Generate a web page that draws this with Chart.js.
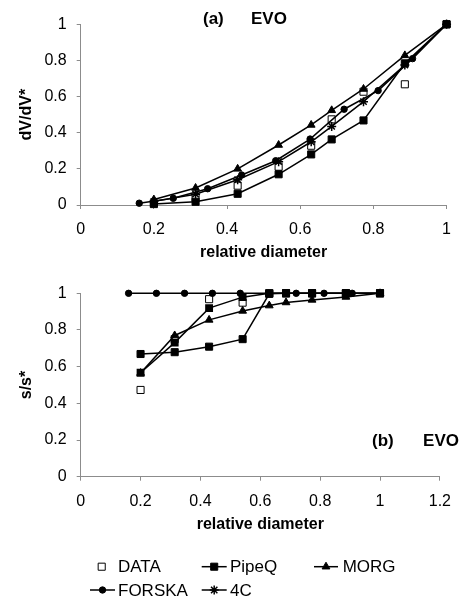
<!DOCTYPE html>
<html>
<head>
<meta charset="utf-8">
<title>EVO - relative diameter</title>
<script src="https://cdn.jsdelivr.net/npm/chart.js@4.4.0/dist/chart.umd.min.js"></script>
<style>
    html, body { margin: 0; padding: 0; background: #fff; }
    #wrap { position: relative; width: 462px; height: 598px; overflow: hidden; }
    #wrap canvas { position: absolute; left: 0; }
</style>
</head>
<body>
<div id="wrap">
    <canvas id="chartA" style="top:0; width:462px; height:264px"></canvas>
    <canvas id="chartB" style="top:270px; width:462px; height:328px"></canvas>
</div>
<script>
// Relative diameters of the sieve classes
const diameters = [0.2, 0.314, 0.429, 0.541, 0.63, 0.686, 0.773, 0.886, 1.0];
const diametersForska = [0.16, 0.253, 0.347, 0.44, 0.533, 0.627, 0.72, 0.813, 0.907, 1.0];

// (a) dV/dV*
const dataA = [0.01, 0.04, 0.107, 0.212, 0.328, 0.474, 0.627, 0.668, 1.0];
const pipeqA = [0.005, 0.018, 0.062, 0.17, 0.28, 0.363, 0.468, 0.784, 1.0];
const morgA = [0.03, 0.094, 0.2, 0.332, 0.443, 0.524, 0.642, 0.828, 1.0];
const forskaA = [0.01, 0.037, 0.09, 0.166, 0.245, 0.365, 0.53, 0.633, 0.81, 1.0];
const c4A = [0.02, 0.06, 0.14, 0.24, 0.35, 0.435, 0.572, 0.775, 1.0];

// (b) s/s*
const dataB = [0.473, 0.75, 0.968, 0.949, 1.0, 1.0, 1.0, 1.0, 1.0];
const pipeqB = [0.669, 0.679, 0.709, 0.75, 0.997, 1.0, 1.0, 1.0, 1.0];
const morgB = [0.565, 0.77, 0.855, 0.904, 0.933, 0.95, 0.964, 0.98, 1.0];
const forskaB = [1, 1, 1, 1, 1, 1, 1, 1, 1, 1];
const c4B = [0.567, 0.731, 0.919, 0.979, 1.0, 1.0, 1.0, 1.0, 1.0];

// Tick values
const xTicksA = [0, 0.2, 0.4, 0.6, 0.8, 1];
const xTicksB = [0, 0.2, 0.4, 0.6, 0.8, 1, 1.2];
const yTicks = [0, 0.2, 0.4, 0.6, 0.8, 1];

const FONT = "'Liberation Sans', Arial, Helvetica, sans-serif";
const AXIS_GREY = '#8c8c8c';

Chart.defaults.font.family = FONT;
Chart.defaults.color = '#000';

const markers = {
    DATA:   { shape: 'rect', r: 5, fill: '#fff', line: false },
    PipeQ:  { shape: 'rect', r: 5, fill: '#000', line: true },
    MORG:   { shape: 'triangle', r: 4.5, fill: '#000', line: true },
    FORSKA: { shape: 'circle', r: 3.2, fill: '#000', line: true },
    '4C':   { shape: 'star', r: 4.5, fill: '#000', line: true }
};

function series(label, xs, ys, order, shape) {
    const m = markers[label];
    return {
        label: label,
        data: xs.map((x, i) => ({ x: x, y: ys[i] })),
        showLine: m.line,
        borderColor: '#000',
        borderWidth: 1.5,
        pointStyle: shape || m.shape,
        pointRadius: m.r,
        pointBackgroundColor: m.fill,
        pointBorderColor: '#000',
        pointBorderWidth: m.shape === 'star' ? 1.5 : 1,
        order: order,
        clip: false
    };
}

function axis(min, max, ticks, title, horizontal, fit, titlePad) {
    return {
        type: 'linear',
        min: min,
        max: max,
        afterBuildTicks: s => { s.ticks = ticks.map(v => ({ value: v })); },
        afterFit: s => { if (horizontal) s.height = fit; else s.width = fit; },
        grid: { drawOnChartArea: false, drawTicks: true, tickLength: 4, color: AXIS_GREY },
        border: { display: true, color: AXIS_GREY, width: 1 },
        ticks: {
            color: '#000',
            font: { size: 16 },
            padding: horizontal ? 11 : 10,
            maxRotation: 0,
            autoSkip: false,
            callback: v => String(+v.toFixed(1))
        },
        title: {
            display: true,
            text: title,
            color: '#000',
            font: { size: 16, weight: 'bold' },
            padding: titlePad
        }
    };
}

// "(a)   EVO" style panel captions, drawn at fixed canvas positions
const panelLabel = {
    id: 'panelLabel',
    afterDraw(chart, args, opts) {
        const ctx = chart.ctx;
        ctx.save();
        ctx.fillStyle = '#000';
        ctx.font = 'bold 17px ' + FONT;
        ctx.textBaseline = 'middle';
        (opts.parts || []).forEach(p => {
            ctx.textAlign = p.align || 'left';
            ctx.fillText(p.text, p.x, p.y);
        });
        ctx.restore();
    }
};

// Two-row legend under the lower panel
const bottomLegend = {
    id: 'bottomLegend',
    afterDraw(chart, args, opts) {
        const ctx = chart.ctx;
        ctx.save();
        ctx.font = '17px ' + FONT;
        ctx.textAlign = 'left';
        ctx.textBaseline = 'middle';
        (opts.items || []).forEach(it => {
            const m = markers[it.label];
            if (m.line) {
                ctx.strokeStyle = '#000';
                ctx.lineWidth = 1.5;
                ctx.beginPath();
                ctx.moveTo(it.x1, it.y);
                ctx.lineTo(it.x2, it.y);
                ctx.stroke();
            }
            ctx.fillStyle = m.fill;
            ctx.strokeStyle = '#000';
            ctx.lineWidth = m.shape === 'star' ? 1.5 : 1;
            Chart.helpers.drawPoint(ctx, {
                pointStyle: m.shape, rotation: 0, radius: m.r, borderWidth: ctx.lineWidth
            }, m.line ? (it.x1 + it.x2) / 2 : it.x1, it.y);
            ctx.fillStyle = '#000';
            ctx.fillText(it.label, it.tx, it.y + 1);
        });
        ctx.restore();
    }
};

function baseOptions(xScale, yScale, padding, plugins) {
    return {
        responsive: false,
        animation: false,
        events: [],
        layout: { padding: padding },
        scales: { x: xScale, y: yScale },
        plugins: Object.assign({ legend: { display: false }, tooltip: { enabled: false } }, plugins)
    };
}

// DATA gets the highest order so the model markers sit on top of it
new Chart(document.getElementById('chartA'), {
    type: 'scatter',
    data: {
        datasets: [
            series('DATA', diameters, dataA, 5),
            series('PipeQ', diameters, pipeqA, 1),
            series('MORG', diameters, morgA, 2),
            series('FORSKA', diametersForska, forskaA, 3),
            series('4C', diameters, c4A, 4)
        ]
    },
    options: baseOptions(
        axis(0, 1, xTicksA, 'relative diameter', true, 59, { top: 0, bottom: 2 }),
        axis(0, 1, yTicks, 'dV/dV*', false, 80.7, { top: 17.4, bottom: 0 }),
        { top: 24.3, right: 10.3, bottom: 0, left: 0 },
        { panelLabel: { parts: [{ text: '(a)', x: 203, y: 19 }, { text: 'EVO', x: 251, y: 19 }] } }
    ),
    plugins: [panelLabel]
});

new Chart(document.getElementById('chartB'), {
    type: 'scatter',
    data: {
        datasets: [
            series('DATA', diameters, dataB, 5),
            series('PipeQ', diameters, pipeqB, 1),
            series('MORG', diameters, morgB, 2),
            series('FORSKA', diametersForska, forskaB, 3),
            series('4C', diameters, c4B, 4, 'rect')
        ]
    },
    options: baseOptions(
        axis(0, 1.2, xTicksB, 'relative diameter', true, 59, { top: 0, bottom: 2 }),
        axis(0, 1, yTicks, 's/s*', false, 80.7, { top: 17.4, bottom: 0 }),
        { top: 23.3, right: 10, bottom: 62.3, left: 0 },
        {
            panelLabel: { parts: [
                { text: '(b)', x: 372, y: 171.7 },
                { text: 'EVO', x: 459, y: 171.7, align: 'right' }
            ] },
            bottomLegend: {
                items: [
                    { label: 'DATA', x1: 101.7, y: 296.7, tx: 118 },
                    { label: 'PipeQ', x1: 201.7, x2: 226.7, y: 296.7, tx: 230 },
                    { label: 'MORG', x1: 314, x2: 338, y: 296.7, tx: 342.7 },
                    { label: 'FORSKA', x1: 90, x2: 115, y: 320, tx: 118 },
                    { label: '4C', x1: 201.7, x2: 226.7, y: 320, tx: 230 }
                ]
            }
        }
    ),
    plugins: [panelLabel, bottomLegend]
});
</script>
</body>
</html>
